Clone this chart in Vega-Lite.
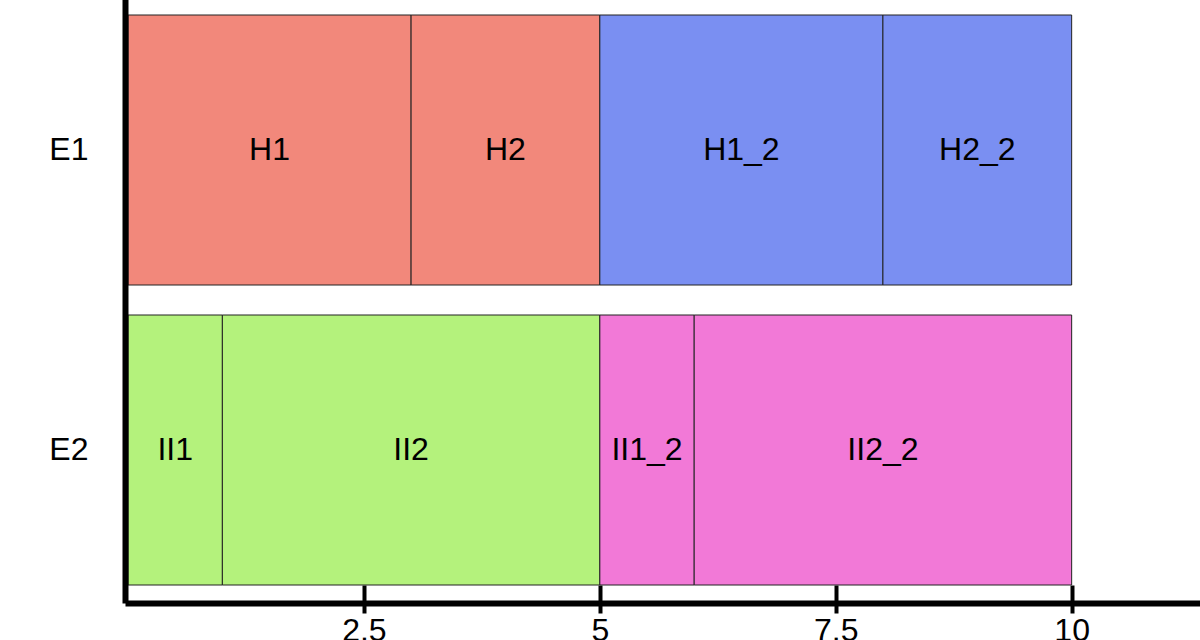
{
  "$schema": "https://vega.github.io/schema/vega-lite/v6.json",
  "width": 1072,
  "height": 600,
  "autosize": {"type": "none"},
  "padding": {"left": 128, "top": 0, "right": 0, "bottom": 40},
  "background": "white",
  "config": {"view": {"stroke": null}, "font": "Liberation Sans"},
  "data": {
    "values": [
      {"row": "E1", "label": "H1", "group": "H", "start": 0, "end": 3},
      {"row": "E1", "label": "H2", "group": "H", "start": 3, "end": 5},
      {"row": "E1", "label": "H1_2", "group": "H_2", "start": 5, "end": 8},
      {"row": "E1", "label": "H2_2", "group": "H_2", "start": 8, "end": 10},
      {"row": "E2", "label": "II1", "group": "II", "start": 0, "end": 1},
      {"row": "E2", "label": "II2", "group": "II", "start": 1, "end": 5},
      {"row": "E2", "label": "II1_2", "group": "II_2", "start": 5, "end": 6},
      {"row": "E2", "label": "II2_2", "group": "II_2", "start": 6, "end": 10}
    ]
  },
  "transform": [{"calculate": "(datum.start + datum.end) / 2", "as": "mid"}],
  "layer": [
    {
      "mark": {"type": "bar", "stroke": "#222222", "strokeWidth": 1},
      "encoding": {
        "y": {
          "field": "row", "type": "nominal",
          "scale": {"paddingInner": 0.1, "paddingOuter": 0.05},
          "axis": {"title": null, "ticks": false, "offset": 3, "domainColor": "black", "domainWidth": 6, "domainCap": "square",
                   "labelFontSize": 32, "labelColor": "black", "labelPadding": 37, "labelFont": "Liberation Sans", "zindex": 1}
        },
        "x": {
          "field": "start", "type": "quantitative",
          "scale": {"domain": [0, 11.36], "nice": false, "zero": false},
          "axis": {"orient": "bottom", "title": null, "values": [2.5, 5, 7.5, 10], "format": ".1~f", "grid": false,
                   "offset": 3, "domainColor": "black", "domainWidth": 6, "domainCap": "square",
                   "tickColor": "black", "tickWidth": 4, "tickSize": 10, "labelPadding": 2,
                   "labelFontSize": 32, "labelColor": "black", "labelFont": "Liberation Sans", "zindex": 1}
        },
        "x2": {"field": "end"},
        "color": {
          "field": "group", "type": "nominal",
          "scale": {"domain": ["H", "H_2", "II", "II_2"], "range": ["#F2887B", "#7A8FF2", "#B4F27C", "#F279D7"]},
          "legend": null
        }
      }
    },
    {
      "mark": {"type": "text", "fontSize": 32, "color": "black", "font": "Liberation Sans"},
      "encoding": {
        "x": {
          "field": "mid", "type": "quantitative",
          "axis": {"orient": "bottom", "title": null, "values": [2.5, 5, 7.5, 10], "offset": -15, "domain": false,
                   "labels": false, "grid": false, "tickSize": 18, "tickWidth": 4, "tickColor": "black"}
        },
        "y": {"field": "row", "type": "nominal"},
        "text": {"field": "label"}
      }
    }
  ],
  "resolve": {"axis": {"x": "independent"}}
}
